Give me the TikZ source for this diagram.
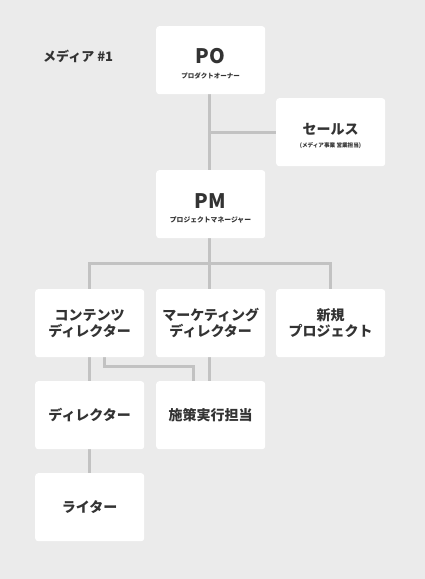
\documentclass[tikz,border=0pt]{standalone}
\usepackage{fontspec}
\setmainfont{Noto Sans CJK JP}
\definecolor{bg}{HTML}{EBEBEB}
\definecolor{ln}{HTML}{C2C2C2}
\definecolor{tx}{HTML}{333333}
\begin{document}
\begin{tikzpicture}[x=1pt,y=-1pt,
  card/.style={fill=white,rounded corners=3pt,minimum width=109pt,minimum height=68pt,inner sep=0pt,anchor=north west,text=tx,align=center,font=\bfseries\fontsize{14}{16}\selectfont},
  lbl/.style={text=tx,inner sep=0pt},
  conn/.style={draw=ln,line width=3pt}]
\fill[bg] (0,0) rectangle (425,579);
\useasboundingbox (0,0) rectangle (425,579);
\node[lbl,font=\bfseries\fontsize{13}{15}\selectfont,anchor=west] (title) at (43,56) {メディア \#1};
% connectors
\coordinate (poB) at (209,94);
\coordinate (pmT) at (209,170);
\coordinate (jS) at (209,132);
\coordinate (saL) at (276,132);
\draw[conn] (poB) -- (pmT);
\draw[conn] (jS) -- (saL);
\coordinate (pmB) at (209,238);
\coordinate (barL) at (89,263);
\coordinate (barR) at (330,263);
\coordinate (r3a) at (89,289);
\coordinate (r3c) at (330,289);
\coordinate (r3b) at (209,289);
\draw[conn] (pmB) -- (r3b);
\draw[conn] (r3a) -- (barL) -- (barR) -- (r3c);
\coordinate (cB) at (89,356);
\coordinate (dT) at (89,381);
\draw[conn] (cB) -- (dT);
\coordinate (c2B) at (104,356);
\coordinate (c2M) at (104,366);
\coordinate (s2M) at (193,366);
\coordinate (s2T) at (193,381);
\draw[conn] (c2B) -- (c2M) -- (s2M) -- (s2T);
\coordinate (mB) at (209,356);
\coordinate (sT) at (209,381);
\draw[conn] (mB) -- (sT);
\coordinate (dB) at (89,449);
\coordinate (wT) at (89,473);
\draw[conn] (dB) -- (wT);
% cards
\node[card] (po) at (156,26) {};
\node[lbl,font=\bfseries\fontsize{20}{22}\selectfont] (potx) at (210.5,56) {PO};
\node[lbl,font=\bfseries\fontsize{6.5}{8}\selectfont] (posub) at (210.5,76) {プロダクトオーナー};
\node[card] (sales) at (276,98) {};
\node[lbl,font=\bfseries\fontsize{14}{16}\selectfont] (satx) at (330.5,129) {セールス};
\node[lbl,font=\bfseries\fontsize{5.6}{7}\selectfont] (sasub) at (330.5,146) {(メディア事業 営業担当)};
\node[card] (pm) at (156,170) {};
\node[lbl,font=\bfseries\fontsize{20}{22}\selectfont] (pmtx) at (210.5,201) {PM};
\node[lbl,font=\bfseries\fontsize{6.8}{8}\selectfont] (pmsub) at (210.5,220) {プロジェクトマネージャー};
\node[card] (cd) at (35,289) {コンテンツ\\ディレクター};
\node[card] (md) at (156,289) {マーケティング\\ディレクター};
\node[card] (np) at (276,289) {新規\\プロジェクト};
\node[card] (di) at (35,381) {ディレクター};
\node[card] (ex) at (156,381) {施策実行担当};
\node[card] (wr) at (35,473) {ライター};
\end{tikzpicture}
\end{document}
